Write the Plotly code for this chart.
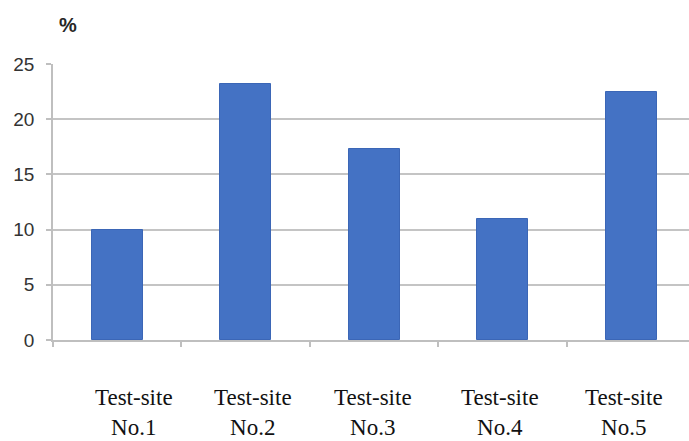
import plotly.graph_objects as go

categories = ["Test-site<br>No.1", "Test-site<br>No.2", "Test-site<br>No.3", "Test-site<br>No.4", "Test-site<br>No.5"]
values = [10.0, 23.2, 17.3, 11.0, 22.5]
y_ticks = [0, 5, 10, 15, 20, 25]
label_shifts = [17, 7, -1, -3, -7]

fig = go.Figure()
fig.add_trace(go.Bar(
    x=categories, y=values, width=0.395,
    marker=dict(color="#4472C4", line=dict(color="#3b66b6", width=1)),
))

for cat, dx in zip(categories, label_shifts):
    fig.add_annotation(
        x=cat, y=0, xref="x", yref="y", yanchor="top", yshift=-43, xshift=dx,
        text=cat, showarrow=False, align="center",
        font=dict(family="Liberation Serif", size=23, color="#111111"),
    )

fig.add_annotation(
    x=(57 - 53) / 636, y=1 + (64 - 12) / 276, xref="paper", yref="paper",
    text="<b>%</b>", showarrow=False, xanchor="left", yanchor="top",
    font=dict(family="Liberation Sans", size=20, color="#262626"),
)

fig.update_layout(
    width=689, height=441,
    margin=dict(l=53, r=0, t=64, b=101),
    paper_bgcolor="white", plot_bgcolor="white",
    showlegend=False, bargap=0,
)

fig.update_xaxes(
    type="category", range=[-0.5, 4.45], showticklabels=False,
    tickson="boundaries", ticks="outside", ticklen=5, tickcolor="#bfbfbf", tickwidth=1.5,
    showline=True, linecolor="#bfbfbf", linewidth=1.5, showgrid=False,
)
fig.update_yaxes(
    range=[0, 25], tickvals=y_ticks, ticks="outside", ticklen=5, tickcolor="#bfbfbf", tickwidth=1.5,
    showgrid=True, gridcolor="#c4c4c4", gridwidth=1.5,
    showline=True, linecolor="#bfbfbf", linewidth=1.5, zeroline=False,
    tickfont=dict(family="Liberation Sans", size=19, color="#333333"),
    ticklabelstandoff=8,
)

fig.write_html("out.html")
